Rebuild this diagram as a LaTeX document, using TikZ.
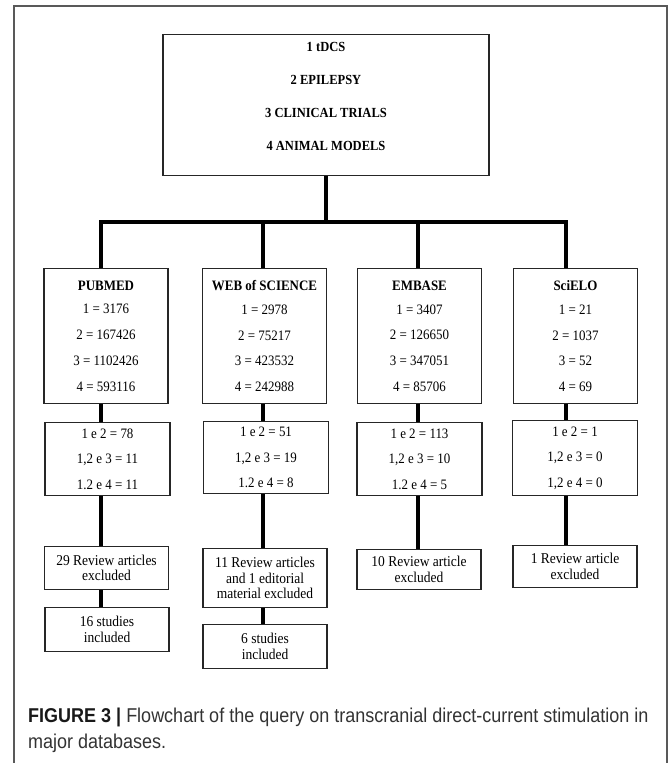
\documentclass[tikz,border=0pt]{standalone}
\usepackage{fontspec}
\setmainfont[FakeStretch=0.9]{Liberation Serif}
\setsansfont[FakeStretch=0.9]{Liberation Sans}
\usepackage{xcolor}
\usepackage{tikz}
\usetikzlibrary{positioning}

\begin{document}
\begin{tikzpicture}[x=1pt, y=-1pt,
    box/.style={draw=black!85, line width=1.2pt, inner sep=0pt, align=center, anchor=north},
    termbox/.style={box, minimum width=326pt, minimum height=141pt},
    termtext/.style={inner sep=0pt, align=center, font=\bfseries\fontsize{13.9}{33}\selectfont},
    dbbox/.style={box, minimum width=124pt, minimum height=135pt, font=\fontsize{14.4}{25.8}\selectfont},
    qbox/.style={box, minimum width=125pt, minimum height=73pt, font=\fontsize{14.4}{25.5}\selectfont},
    outbox/.style={box, minimum width=124pt, font=\fontsize{15}{15.5}\selectfont},
    link/.style={line width=3.3pt, black},
    frame/.style={draw=black!65, line width=1.5pt},
    caption/.style={anchor=north west, inner sep=0pt, align=left, text=black!80,
        font=\sffamily\fontsize{20}{26}\selectfont}]
    \useasboundingbox (0,0) rectangle (670,763);
    \draw[frame] (14,763) -- (14,6) -- (667,6) -- (667,763);

    % search terms
    \node[termbox] (terms) at (326,34) {};
    \node[termtext, below=8pt of terms.north] (termlist) {1 tDCS\\2 EPILEPSY\\3 CLINICAL TRIALS\\4 ANIMAL MODELS};

    % databases
    \node[dbbox] (pubmed) at (106,268) {\textbf{PUBMED}\\[-2pt]1 = 3176\\2 = 167426\\3 = 1102426\\4 = 593116};
    \node[dbbox] (wos) at (264.5,268) {\textbf{WEB of SCIENCE}\\[-2pt]1 = 2978\\2 = 75217\\3 = 423532\\4 = 242988};
    \node[dbbox] (embase) at (419.5,268) {\textbf{EMBASE}\\[-2pt]1 = 3407\\2 = 126650\\3 = 347051\\4 = 85706};
    \node[dbbox] (scielo) at (575.5,268) {\textbf{SciELO}\\[-2pt]1 = 21\\2 = 1037\\3 = 52\\4 = 69};

    % combined queries
    \node[qbox] (pubq) at (107.5,422) {1 e 2 = 78\\1,2 e 3 = 11\\1.2 e 4 = 11};
    \node[qbox, minimum height=72pt] (wosq) at (266,421) {1 e 2 = 51\\1,2 e 3 = 19\\1.2 e 4 = 8};
    \node[qbox] (embq) at (419.5,422) {1 e 2 = 113\\1,2 e 3 = 10\\1.2 e 4 = 5};
    \node[qbox, minimum height=75pt] (sciq) at (575,420) {1 e 2 = 1\\1,2 e 3 = 0\\1,2 e 4 = 0};

    % exclusions and results
    \node[outbox, minimum height=43pt] (pubrev) at (106.5,546) {29 Review articles\\excluded};
    \node[outbox, minimum height=59pt] (wosrev) at (265,548) {11 Review articles\\and 1 editorial\\material excluded};
    \node[outbox, minimum height=40pt] (embrev) at (419,549) {10 Review article\\excluded};
    \node[outbox, minimum height=42pt] (scirev) at (575,545) {1 Review article\\excluded};
    \node[outbox, minimum height=44pt] (pubinc) at (107,607) {16 studies\\included};
    \node[outbox, minimum height=44pt] (wosinc) at (265,624) {6 studies\\included};

    % connectors
    \coordinate (c1) at (101,222);
    \coordinate (c2) at (263,222);
    \coordinate (c3) at (418,222);
    \coordinate (c4) at (566,222);
    \coordinate (hub) at (terms.south |- c1);
    \draw[link] (terms.south) -- (hub);
    \draw[link] (c1 |- pubmed.north) -- (c1) -- (c4) -- (c4 |- scielo.north);
    \draw[link] (c2) -- (c2 |- wos.north);
    \draw[link] (c3) -- (c3 |- embase.north);
    \foreach \c/\a/\b in {c1/pubmed/pubq, c1/pubq/pubrev, c1/pubrev/pubinc,
                          c2/wos/wosq, c2/wosq/wosrev, c2/wosrev/wosinc,
                          c3/embase/embq, c3/embq/embrev,
                          c4/scielo/sciq, c4/sciq/scirev}
        \draw[link] (\c |- \a.south) -- (\c |- \b.north);

    \node[caption] (cap) at (28,708) {\textbf{\color{black!90}FIGURE 3 |} Flowchart of the query on transcranial direct-current stimulation in\\major databases.};
\end{tikzpicture}
\end{document}
